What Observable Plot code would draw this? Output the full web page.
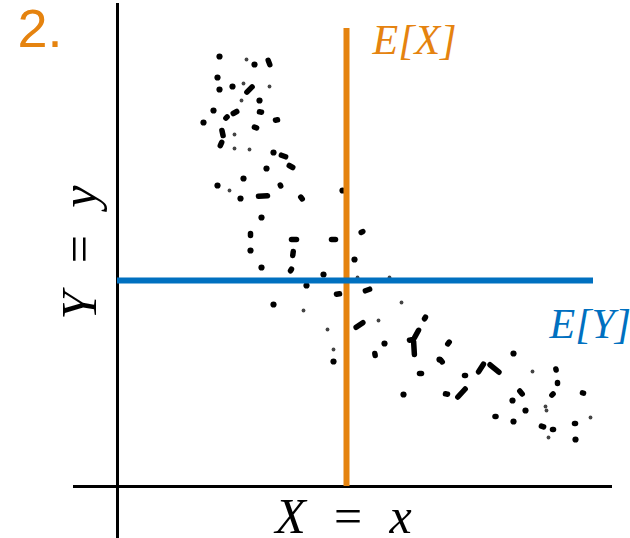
<!DOCTYPE html>
<html>
<head>
<meta charset="utf-8">
<script src="https://cdn.jsdelivr.net/npm/d3@7"></script>
<script src="https://cdn.jsdelivr.net/npm/@observablehq/plot@0.6"></script>
<style>
  html, body { margin: 0; padding: 0; background: #fff; }
  #chart svg { display: block; }
</style>
</head>
<body>
<div id="chart"></div>
<script>
// Round points: [x, y, kind]  (kind "d" = ink dot, "s" = small faint dot)
const dots = [
  [10.2,43.0,"d"],[12.9,42.7,"s"],[13.7,42.2,"d"],[10.0,40.9,"d"],[10.2,39.7,"d"],
  [11.5,40.0,"d"],[12.6,40.3,"s"],[15.2,40.0,"s"],[12.4,38.6,"s"],[14.2,38.6,"d"],
  [9.6,37.6,"d"],[8.6,36.4,"d"],[11.7,35.2,"s"],[11.7,33.8,"s"],[13.2,33.7,"s"],
  [15.6,33.4,"d"],[14.9,31.8,"d"],[12.6,30.8,"d"],[10.0,30.1,"d"],[11.2,29.6,"s"],
  [12.3,28.8,"d"],[22.5,29.6,"d"],[14.4,26.9,"d"],[13.3,23.6,"d"],[23.7,22.7,"d"],
  [14.4,21.9,"d"],[20.6,21.2,"d"],[24.0,20.9,"s"],[18.9,20.1,"d"],[27.2,20.9,"s"],
  [15.6,18.2,"d"],[18.6,17.6,"s"],[28.4,18.4,"s"],[21.0,15.7,"s"],[26.1,16.6,"s"],
  [26.7,14.3,"d"],[21.6,13.7,"s"],[21.6,12.5,"d"],[28.6,9.2,"d"],[32.2,12.7,"d"],
  [39.6,13.3,"d"],[41.5,11.5,"s"],[39.5,8.6,"d"],[40.8,7.6,"d"],[39.6,6.5,"d"],
  [42.8,8.0,"s"],[42.9,7.6,"s"],[47.3,6.9,"s"],[43.1,4.9,"s"],[45.8,4.7,"d"]
];
// Short strokes (outer ends as seen): [x1, y1, x2, y2]
const dashes = [
  [15.0,42.8,15.3,42.0],[12.8,39.3,13.6,40.1],[11.4,37.2,12.1,37.6],[14.0,37.5,14.6,37.4],
  [15.6,36.6,16.2,36.7],[13.5,36.0,14.1,35.8],[10.4,35.8,10.6,34.9],[10.5,34.6,10.2,33.9],
  [16.2,33.2,17.0,32.9],[17.0,32.2,17.7,31.8],[13.9,29.0,15.2,29.1],[18.2,29.1,18.6,28.6],
  [16.2,30.3,16.4,29.9],[13.3,25.5,13.3,24.9],[17.2,24.7,18.1,24.7],[21.2,24.7,22.0,24.7],
  [24.2,25.3,24.7,25.6],[17.6,23.7,17.5,22.9],[17.2,21.4,17.5,21.9],[21.7,19.2,22.4,19.3],
  [24.6,19.5,25.4,19.8],[23.7,15.8,24.7,16.5],[30.6,16.6,30.9,17.1],[29.6,14.7,30.2,15.8],
  [29.0,14.6,29.6,14.7],[29.6,14.7,29.7,13.0],[25.7,13.5,25.8,12.9],[30.0,11.3,30.6,11.3],
  [32.9,14.1,33.3,14.6],[32.2,12.8,32.6,12.3],[32.6,9.3,33.2,9.2],[33.9,8.8,34.9,9.9],
  [36.0,11.3,36.7,12.4],[37.1,12.3,38.3,11.3],[34.5,11.1,35.0,11.1],[43.8,11.9,43.9,11.5],
  [44.0,10.6,44.0,10.1],[43.3,9.0,43.7,9.4],[40.1,9.7,40.6,9.1],[42.2,6.1,42.8,5.9],
  [43.3,5.7,43.8,5.7],[45.5,6.3,46.0,6.3],[46.3,9.4,46.8,9.3],[37.6,7.0,38.0,7.0],
  [10.7,36.7,11.1,37.1]
];
// Expectations
const meanX = 22.9;
const meanY = 20.6;
const meanXTop = 45.8;
const meanYRight = 47.6;
// Axis extents
const xAxisRange = [-4.4, 49.5];
const yAxisRange = [-5.2, 48.3];
// Labels
const labels = {panel: "2.", ex: "E[X]", ey: "E[Y]", xlab: "X\u2002=\u2002x", ylab: "Y\u2002=\u2002y"};

const ORANGE = "#E5830F";
const BLUE = "#0070C0";
const mathFont = "'Liberation Serif', 'DejaVu Serif', serif";

const dotData = dots.map(([x, y, k]) => ({x, y, k}));
// pull each stroke's ends inward so that the round caps end where the ink ends
const inset = 0.2;
const dashData = dashes.map(([x1, y1, x2, y2]) => {
  const dx = x2 - x1, dy = y2 - y1, len = Math.hypot(dx, dy) || 1;
  const t = Math.min(inset, len / 2 - 0.05) / len;
  return {x1: x1 + dx * t, y1: y1 + dy * t, x2: x2 - dx * t, y2: y2 - dy * t};
});

const chart = Plot.plot({
  width: 630,
  height: 538,
  margin: 0,
  x: {domain: [-11.7, 51.3], axis: null},
  y: {domain: [-5.2, 48.6], axis: null},
  style: {background: "#fff"},
  marks: [
    Plot.ruleX([0], {y1: yAxisRange[0], y2: yAxisRange[1], stroke: "#000", strokeWidth: 3}),
    Plot.ruleY([0], {x1: xAxisRange[0], x2: xAxisRange[1], stroke: "#000", strokeWidth: 3}),
    Plot.dot(dotData.filter(d => d.k === "d"), {x: "x", y: "y", r: 3.1, fill: "#000", stroke: "none"}),
    Plot.dot(dotData.filter(d => d.k === "s"), {x: "x", y: "y", r: 1.9, fill: "#444", stroke: "none"}),
    Plot.link(dashData, {x1: "x1", y1: "y1", x2: "x2", y2: "y2", stroke: "#000", strokeWidth: 5.5, strokeLinecap: "round"}),
    Plot.ruleX([meanX], {y1: 0, y2: meanXTop, stroke: ORANGE, strokeWidth: 6}),
    Plot.ruleY([meanY], {x1: 0, x2: meanYRight, stroke: BLUE, strokeWidth: 6}),
    Plot.text([labels.panel], {x: -10.0, y: 44.0, text: d => d, textAnchor: "start", lineAnchor: "bottom", fill: ORANGE, fontSize: 54, fontFamily: "'Liberation Sans', Arial, sans-serif"}),
    Plot.text([labels.ex], {x: 25.5, y: 43.3, text: d => d, textAnchor: "start", lineAnchor: "bottom", fill: ORANGE, fontSize: 42, fontStyle: "italic", fontFamily: mathFont}),
    Plot.text([labels.ey], {x: 43.2, y: 14.9, text: d => d, textAnchor: "start", lineAnchor: "bottom", fill: BLUE, fontSize: 42, fontStyle: "italic", fontFamily: mathFont}),
    Plot.text([labels.xlab], {x: 22.6, y: -4.6, text: d => d, textAnchor: "middle", lineAnchor: "bottom", fill: "#000", fontSize: 50, fontStyle: "italic", fontFamily: mathFont}),
    Plot.text([labels.ylab], {x: -2.2, y: 23.4, text: d => d, textAnchor: "middle", lineAnchor: "bottom", rotate: -90, fill: "#000", fontSize: 50, fontStyle: "italic", fontFamily: mathFont})
  ]
});
document.getElementById("chart").appendChild(chart);
</script>
</body>
</html>
